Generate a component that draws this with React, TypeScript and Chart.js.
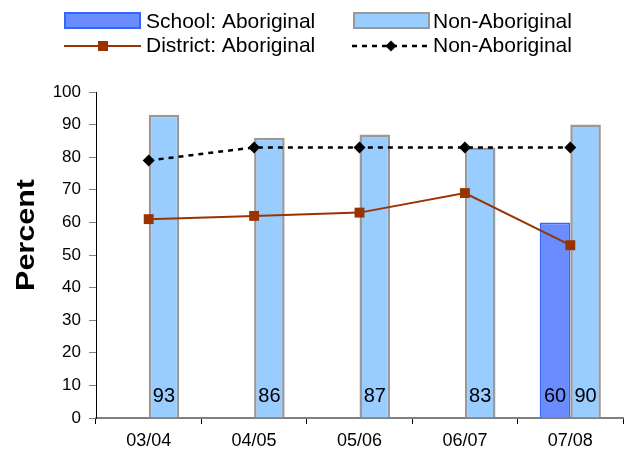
import React, { useEffect, useRef } from 'react';
import { Chart, registerables } from 'chart.js';

Chart.register(...registerables);

const FONT = "'Liberation Sans', Arial, sans-serif";

const categories = ['03/04', '04/05', '05/06', '06/07', '07/08'];
const schoolAboriginal: (number | null)[] = [null, null, null, null, 60];
const schoolNonAboriginal: number[] = [93, 86, 87, 83, 90];
const districtAboriginal: number[] = [61, 62, 63, 69, 53];
const districtNonAboriginal: number[] = [79, 83, 83, 83, 83];
const legendLabels = ['School: Aboriginal', 'Non-Aboriginal', 'District: Aboriginal', 'Non-Aboriginal'];
const yTitle = 'Percent';

const SCHOOL_FILL = '#6A8CFF';
const SCHOOL_BORDER = '#3366FF';
const NONAB_FILL = '#99CCFF';
const NONAB_BORDER = '#999999';
const DISTRICT_COLOR = '#993300';

const overlay = {
  id: 'overlay',
  afterDatasetsDraw(chart: any) {
    const ctx = chart.ctx;
    const y0 = chart.scales.y.getPixelForValue(0);
    ctx.save();
    ctx.font = `20px ${FONT}`;
    ctx.fillStyle = '#000';
    ctx.textAlign = 'center';
    ctx.textBaseline = 'alphabetic';
    chart.data.datasets.forEach((ds: any, di: number) => {
      if (ds.type !== 'bar') return;
      const meta = chart.getDatasetMeta(di);
      meta.data.forEach((el: any, i: number) => {
        const v = ds.data[i];
        if (v == null) return;
        ctx.fillText(String(v), el.x, y0 - 16);
      });
    });
    ctx.restore();
  },
  afterDraw(chart: any) {
    const ctx = chart.ctx;
    ctx.save();
    // y title
    ctx.translate(27, 235);
    ctx.rotate(-Math.PI / 2);
    ctx.scale(1.22, 1);
    ctx.font = `bold 25px ${FONT}`;
    ctx.fillStyle = '#000';
    ctx.textAlign = 'center';
    ctx.textBaseline = 'middle';
    ctx.fillText(yTitle, 0, 0);
    ctx.restore();

    // legend
    ctx.save();
    ctx.font = `21px ${FONT}`;
    ctx.fillStyle = '#000';
    ctx.textAlign = 'left';
    ctx.textBaseline = 'alphabetic';
    // row 1 col 1
    ctx.fillStyle = SCHOOL_FILL;
    ctx.fillRect(65, 13, 75, 15);
    ctx.strokeStyle = SCHOOL_BORDER;
    ctx.lineWidth = 2;
    ctx.strokeRect(65, 13, 75, 15);
    // row 1 col 2
    ctx.fillStyle = NONAB_FILL;
    ctx.fillRect(354, 13, 75, 15);
    ctx.strokeStyle = NONAB_BORDER;
    ctx.lineWidth = 2;
    ctx.strokeRect(354, 13, 75, 15);
    // row 2 col 1
    ctx.strokeStyle = DISTRICT_COLOR;
    ctx.lineWidth = 2;
    ctx.beginPath();
    ctx.moveTo(64, 46);
    ctx.lineTo(141, 46);
    ctx.stroke();
    ctx.fillStyle = DISTRICT_COLOR;
    ctx.fillRect(98, 41, 10, 10);
    // row 2 col 2
    ctx.strokeStyle = '#000';
    ctx.lineWidth = 2.5;
    ctx.setLineDash([5, 5]);
    ctx.beginPath();
    ctx.moveTo(352, 46);
    ctx.lineTo(430, 46);
    ctx.stroke();
    ctx.setLineDash([]);
    ctx.fillStyle = '#000';
    ctx.beginPath();
    ctx.moveTo(391, 40.5);
    ctx.lineTo(396.5, 46);
    ctx.lineTo(391, 51.5);
    ctx.lineTo(385.5, 46);
    ctx.closePath();
    ctx.fill();
    // texts
    ctx.fillStyle = '#000';
    ctx.fillText(legendLabels[0], 146, 28);
    ctx.fillText(legendLabels[1], 433, 28);
    ctx.fillText(legendLabels[2], 146, 52);
    ctx.fillText(legendLabels[3], 433, 52);
    ctx.restore();
  },
};

export default function App() {
  const ref = useRef<HTMLCanvasElement | null>(null);
  useEffect(() => {
    if (!ref.current) return;
    const chart = new Chart(ref.current, {
      data: {
        labels: categories,
        datasets: [
          {
            type: 'line',
            label: 'District: Aboriginal',
            data: districtAboriginal,
            borderColor: DISTRICT_COLOR,
            backgroundColor: DISTRICT_COLOR,
            borderWidth: 2,
            pointStyle: 'rect',
            pointRadius: 7,
            pointBorderWidth: 0,
            tension: 0,
            order: 0,
          },
          {
            type: 'line',
            label: 'District: Non-Aboriginal',
            data: districtNonAboriginal,
            borderColor: '#000',
            backgroundColor: '#000',
            borderWidth: 2.5,
            borderDash: [5, 5],
            pointStyle: 'rectRot',
            pointRadius: 6,
            pointBorderWidth: 0,
            tension: 0,
            order: 0,
          },
          {
            type: 'bar',
            label: 'School: Aboriginal',
            data: schoolAboriginal,
            backgroundColor: SCHOOL_FILL,
            borderColor: SCHOOL_BORDER,
            borderWidth: 2,
            categoryPercentage: 0.58,
            barPercentage: 1,
            order: 1,
          },
          {
            type: 'bar',
            label: 'School: Non-Aboriginal',
            data: schoolNonAboriginal,
            backgroundColor: NONAB_FILL,
            borderColor: NONAB_BORDER,
            borderWidth: 2.5,
            categoryPercentage: 0.58,
            barPercentage: 1,
            order: 1,
          },
        ],
      } as any,
      options: {
        animation: false,
        responsive: true,
        maintainAspectRatio: false,
        layout: { padding: { top: 92, right: 7, left: 0, bottom: 0 } },
        plugins: {
          legend: { display: false },
          tooltip: { enabled: false },
        },
        scales: {
          x: {
            offset: true,
            grid: {
              offset: true,
              drawOnChartArea: false,
              drawTicks: true,
              tickLength: 6,
              color: '#000',
            },
            border: { color: '#808080', width: 2 },
            ticks: { color: '#000', font: { family: FONT, size: 18 }, padding: 6 },
            afterFit: (s: any) => {
              s.height = 36;
            },
          },
          y: {
            min: 0,
            max: 100,
            ticks: { stepSize: 10, color: '#000', font: { family: FONT, size: 17 }, padding: 8 },
            grid: { drawOnChartArea: false, drawTicks: true, tickLength: 7, color: '#808080' },
            border: { color: '#000', width: 1 },
            afterFit: (s: any) => {
              s.width = 96;
            },
          },
        },
      } as any,
      plugins: [overlay],
    });
    return () => chart.destroy();
  }, []);
  return (
    <div style={{ position: 'fixed', left: 0, top: 0, width: 630, height: 454, background: '#fff' }}>
      <canvas ref={ref} />
    </div>
  );
}
